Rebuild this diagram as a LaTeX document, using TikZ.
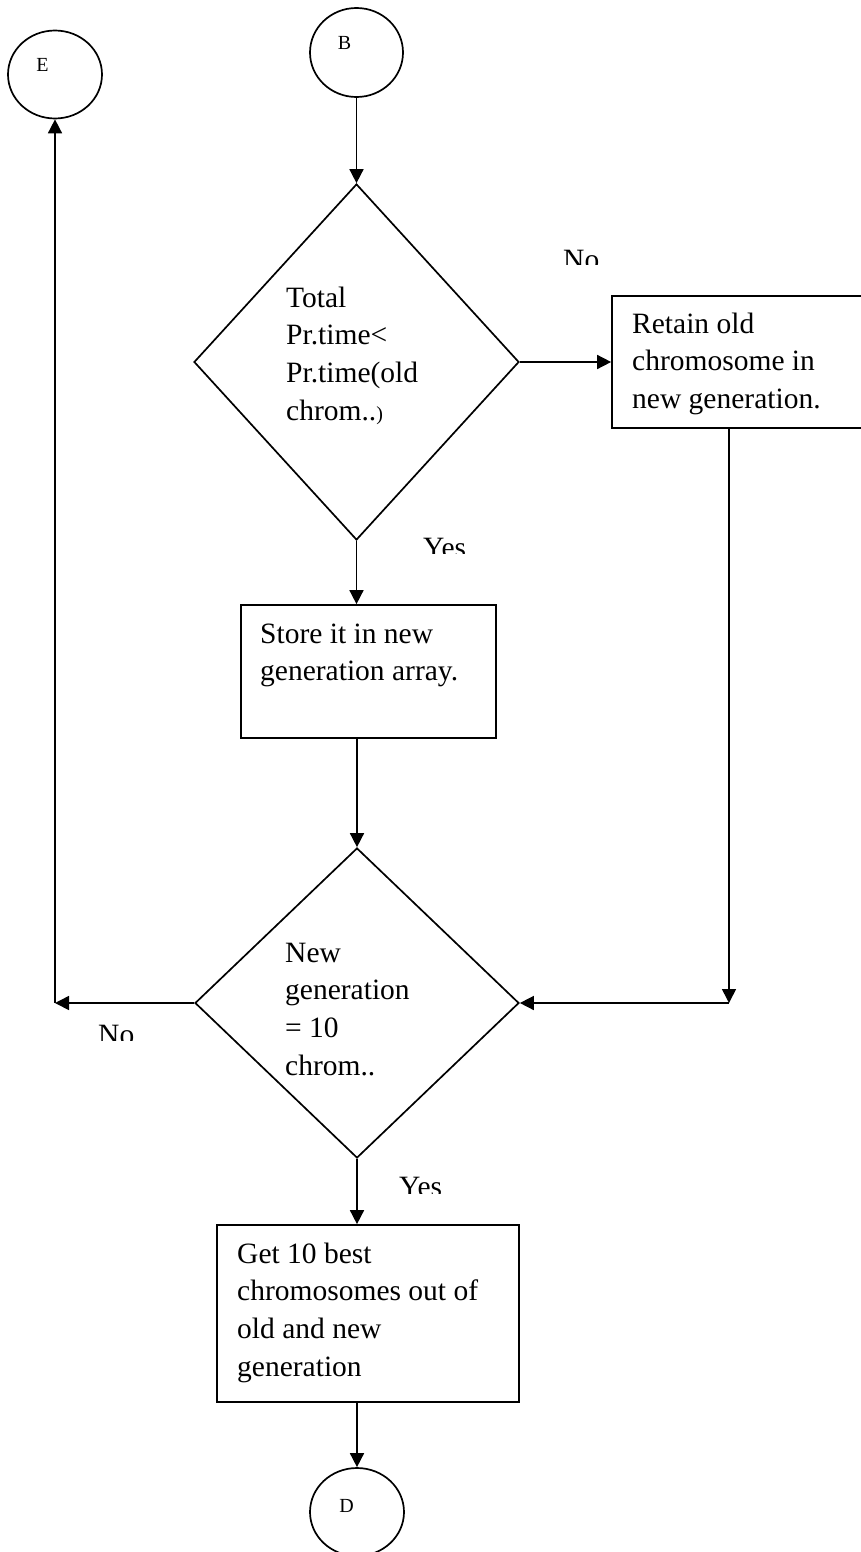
\documentclass[tikz,border=0pt]{standalone}
\usepackage{fontspec}
\setmainfont{Liberation Serif}
\usetikzlibrary{shapes.geometric,arrows.meta}
\newcommand\flowtext{\fontsize{29.5}{37.8}\selectfont}
\newcommand\tagtext{\fontsize{20}{24}\selectfont}
\begin{document}
\begin{tikzpicture}[x=1pt,y=-1pt,
  shape line/.style={draw, line width=1.7pt},
  connector/.style={line width=1.6pt},
  flow/.style={connector, -{Triangle[length=14pt,width=14pt]}},
  terminal/.style={shape line, ellipse, inner sep=0pt, minimum width=94pt, minimum height=88pt},
  decision/.style={shape line, diamond, inner sep=0pt, minimum width=325pt, minimum height=356pt},
  process/.style={shape line, rectangle, inner sep=0pt},
  body/.style={anchor=base west, inner sep=0pt, font=\flowtext},
  letter/.style={anchor=base, inner sep=0pt, font=\tagtext},
]
\useasboundingbox (0,0) rectangle (861,1552);
\clip (0,0) rectangle (861,1552);

% connectors to other pages
\node[terminal] (E) at (55,74.5) {};
\node[letter] at (42.5,72) {E};
\node[terminal, minimum width=93pt, minimum height=89pt] (B) at (356.5,52.5) {};
\node[letter] at (344.5,50) {B};
\node[terminal] (D) at (357,1512) {};
\node[letter] at (346.5,1512) {D};

% processing-time test
\node[decision] (d1) at (356.5,362) {};
\node[body] at (286,307) {\begin{tabular}[t]{@{}l@{}}Total\\Pr.time<\\Pr.time(old\\chrom..{\tagtext)}\end{tabular}};

% keep the old chromosome
\node[process, minimum width=256pt, minimum height=132pt] (r2) at (740,362) {};
\node[body] at (632,333) {\begin{tabular}[t]{@{}l@{}}Retain old\\chromosome in\\new generation.\end{tabular}};

% store the new chromosome
\node[process, minimum width=255pt, minimum height=133pt] (r1) at (368.5,671.5) {};
\node[body] at (260,643) {\begin{tabular}[t]{@{}l@{}}Store it in new\\generation array.\end{tabular}};

% generation size test
\node[decision, minimum width=324pt, minimum height=310pt] (d2) at (357,1003) {};
\node[body] at (285,962) {\begin{tabular}[t]{@{}l@{}}New\\generation\\= 10\\chrom..\end{tabular}};

% selection of the best chromosomes
\node[process, minimum width=302pt, minimum height=177pt] (r3) at (368,1313.5) {};
\node[body] at (237,1263) {\begin{tabular}[t]{@{}l@{}}Get 10 best\\chromosomes out of\\old and new\\generation\end{tabular}};

% bends of the return lines
\coordinate (join) at (729,1003);
\coordinate (turn) at (55,1003);

\draw[flow] (B.south) -- (d1.north);
\draw[flow] (d1.east) -- (r2.west);
\draw[flow] (d1.south) -- (d1.south |- r1.north);
\draw[flow] (r1.south -| d2.north) -- (d2.north);
\draw[flow] (r2.south -| join) -- (join);
\draw[flow] (join) -- (d2.east);
\draw[flow] (d2.west) -- (turn);
\draw[flow] (turn) -- (E.south);
\draw[flow] (d2.south) -- (d2.south |- r3.north);
\draw[flow] (r3.south -| D.north) -- (D.north);

% branch labels, cut off at their lower edge
\begin{scope}
  \clip (550,240) rectangle (620,264);
  \node[body] at (563,269.5) {No};
\end{scope}
\begin{scope}
  \clip (410,530) rectangle (480,553);
  \node[body] at (423,557.5) {Yes};
\end{scope}
\begin{scope}
  \clip (390,1170) rectangle (460,1193);
  \node[body] at (399,1196.5) {Yes};
\end{scope}
\begin{scope}
  \clip (90,1015) rectangle (145,1040);
  \node[body] at (98,1044) {No};
\end{scope}
\end{tikzpicture}
\end{document}
